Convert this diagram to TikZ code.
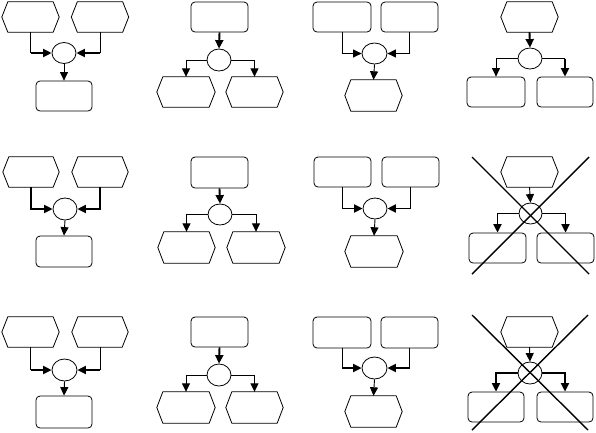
\documentclass[tikz,border=0pt]{standalone}
\usetikzlibrary{shapes.geometric,arrows.meta}
\newcommand\hexat[1]{\draw[shapeline] (#1.west) -- ([xshift=6pt]#1.north west) -- ([xshift=-6pt]#1.north east) -- (#1.east) -- ([xshift=-6pt]#1.south east) -- ([xshift=6pt]#1.south west) -- cycle;}
\tikzset{
  shapeline/.style={line width=0.8pt, line join=round},
  hexbox/.style={draw=none, inner sep=0pt, minimum width=57pt, minimum height=30pt},
  rbox/.style={draw, shapeline, rounded corners=4pt, inner sep=0pt, minimum width=57pt, minimum height=30pt},
  conn/.style={ellipse, draw, shapeline, inner sep=0pt, minimum width=24pt, minimum height=21pt},
  thinl/.style={line width=0.9pt},
  thickl/.style={line width=1.9pt},
  arr/.style={-{Triangle[length=8.5pt 0 0,width=8pt 0 0]}},
  crossl/.style={line width=1.4pt}
}
\begin{document}
\begin{tikzpicture}[x=1pt,y=-1pt]
\useasboundingbox (0,0) rectangle (596,432);
% ---------- Column 1 ----------
% P1
\node[hexbox] (a1) at (30.5,17) {};\hexat{a1}
\node[hexbox] (b1) at (100,17) {};\hexat{b1}
\node[conn] (c1) at (64,53) {};
\node[rbox, minimum width=56pt] (d1) at (64,96) {};
\draw[thinl] (a1.south) -- (a1.south |- c1.west);
\draw[thickl,arr] (a1.south |- c1.west) -- (c1.west);
\draw[thinl] (b1.south) -- (b1.south |- c1.east);
\draw[thickl,arr] (b1.south |- c1.east) -- (c1.east);
\draw[thinl,arr] (c1.south) -- (d1.north);
% P5
\node[hexbox, minimum width=56pt] (a5) at (31,172) {};\hexat{a5}
\node[hexbox, minimum width=56pt] (b5) at (100,172) {};\hexat{b5}
\node[conn, minimum height=22pt] (c5) at (65,209) {};
\node[rbox, minimum width=56pt, minimum height=31pt] (d5) at (64,251.5) {};
\draw[thickl,arr] (a5.south) |- (c5.west);
\draw[thickl,arr] (b5.south) |- (c5.east);
\draw[thinl,arr] (c5.south) -- (d5.north);
% P9
\node[hexbox] (a9) at (30.5,332) {};\hexat{a9}
\node[hexbox, minimum width=56pt] (b9) at (100,332) {};\hexat{b9}
\node[conn, minimum width=25pt, minimum height=22pt] (c9) at (64.5,370) {};
\node[rbox, minimum width=56pt, minimum height=32pt] (d9) at (64,412) {};
\draw[thinl] (a9.south) -- (a9.south |- c9.west);
\draw[thickl,arr] (a9.south |- c9.west) -- (c9.west);
\draw[thinl] (b9.south) -- (b9.south |- c9.east);
\draw[thickl,arr] (b9.south |- c9.east) -- (c9.east);
\draw[thinl,arr] (c9.south) -- (d9.north);
% ---------- Column 2 ----------
% P2
\node[rbox] (e2) at (219.5,17) {};
\node[conn, minimum height=22pt] (c2) at (219,60) {};
\node[hexbox, minimum width=58pt] (f2) at (186,92) {};\hexat{f2}
\node[hexbox] (g2) at (254.5,92) {};\hexat{g2}
\draw[thickl,arr] (e2.south) -- (c2.north);
\draw[thinl,arr] (c2.west) -| (f2.north);
\draw[thinl,arr] (c2.east) -| (g2.north);
% P6
\node[rbox, minimum height=31pt] (e6) at (219.5,172.5) {};
\node[conn] (c6) at (220,214.5) {};
\node[hexbox, minimum height=31pt] (f6) at (186.5,247.5) {};\hexat{f6}
\node[hexbox, minimum width=58pt, minimum height=31pt] (g6) at (256,247.5) {};\hexat{g6}
\draw[thickl,arr] (e6.south) -- (c6.north);
\draw[thinl,arr] (c6.west) -| (f6.north);
\draw[thinl,arr] (c6.east) -| (g6.north);
% P10
\node[rbox] (e10) at (219.5,332) {};
\node[conn, minimum height=22pt] (c10) at (219,375) {};
\node[hexbox, minimum width=58pt, minimum height=31pt] (f10) at (186,407.5) {};\hexat{f10}
\node[hexbox, minimum height=31pt] (g10) at (254.5,407.5) {};\hexat{g10}
\draw[thickl,arr] (e10.south) -- (c10.north);
\draw[thinl,arr] (c10.west) -| (f10.north);
\draw[thinl,arr] (c10.east) -| (g10.north);
% ---------- Column 3 ----------
% P3
\node[rbox, minimum width=58pt] (h3) at (342,17) {};
\node[rbox] (i3) at (409.5,17) {};
\node[conn, minimum width=25pt] (c3) at (374.5,53.5) {};
\node[hexbox, minimum height=31pt] (j3) at (373.5,95.5) {};\hexat{j3}
\draw[thinl,arr] (h3.south) |- (c3.west);
\draw[thinl,arr] (i3.south) |- (c3.east);
\draw[thinl,arr] (c3.south) -- (j3.north);
% P7
\node[rbox] (h7) at (342.5,172) {};
\node[rbox] (i7) at (410.5,172) {};
\node[conn] (c7) at (375,208.5) {};
\node[hexbox, minimum width=58pt, minimum height=31pt] (j7) at (374,251.5) {};\hexat{j7}
\draw[thickl,arr] (h7.south) |- (c7.west);
\draw[thickl,arr] (i7.south) |- (c7.east);
\draw[thinl,arr] (c7.south) -- (j7.north);
% P11
\node[rbox, minimum width=58pt, minimum height=31pt] (h11) at (342,332.5) {};
\node[rbox, minimum height=31pt] (i11) at (409.5,332.5) {};
\node[conn, minimum width=25pt, minimum height=22pt] (c11) at (374.5,368) {};
\node[hexbox, minimum height=31pt] (j11) at (373.5,411.5) {};\hexat{j11}
\draw[thinl] (h11.south) -- (h11.south |- c11.west);
\draw[thickl,arr] (h11.south |- c11.west) -- (c11.west);
\draw[thinl] (i11.south) -- (i11.south |- c11.east);
\draw[thickl,arr] (i11.south |- c11.east) -- (c11.east);
\draw[thinl,arr] (c11.south) -- (j11.north);
% ---------- Column 4 ----------
% P4
\node[hexbox] (k4) at (529.5,17) {};\hexat{k4}
\node[conn] (c4) at (530,58.5) {};
\node[rbox, minimum width=58pt] (l4) at (496,92) {};
\node[rbox, minimum width=56pt] (m4) at (565,92) {};
\draw[thickl,arr] (k4.south) -- (c4.north);
\draw[thinl,arr] (c4.west) -| (l4.north);
\draw[thinl] (c4.east) -- (c4.east -| m4.north);
\draw[thickl,arr] (c4.east -| m4.north) -- (m4.north);
% P8
\node[hexbox] (k8) at (529.5,172) {};\hexat{k8}
\node[conn, minimum width=23pt] (c8) at (530.5,213.5) {};
\node[rbox] (l8) at (497.5,248) {};
\node[rbox] (m8) at (565.5,248) {};
\draw[thinl,arr] (k8.south) -- (c8.north);
\draw[thickl,arr] (c8.west) -| (l8.north);
\draw[thickl,arr] (c8.east) -| (m8.north);
\draw[crossl] (472,157) -- (589,274);
\draw[crossl] (589,157) -- (472,274);
% P12
\node[hexbox] (k12) at (529.5,332) {};\hexat{k12}
\node[conn, minimum height=22pt] (c12) at (530,373) {};
\node[rbox, minimum width=56pt] (l12) at (496,407) {};
\node[rbox, minimum width=56pt] (m12) at (565,407) {};
\draw[thinl,arr] (k12.south) -- (c12.north);
\draw[thickl,arr] (c12.west) -| (l12.north);
\draw[thickl,arr] (c12.east) -| (m12.north);
\draw[crossl] (472,315) -- (588,430);
\draw[crossl] (588,315) -- (472,430);
\end{tikzpicture}
\end{document}
